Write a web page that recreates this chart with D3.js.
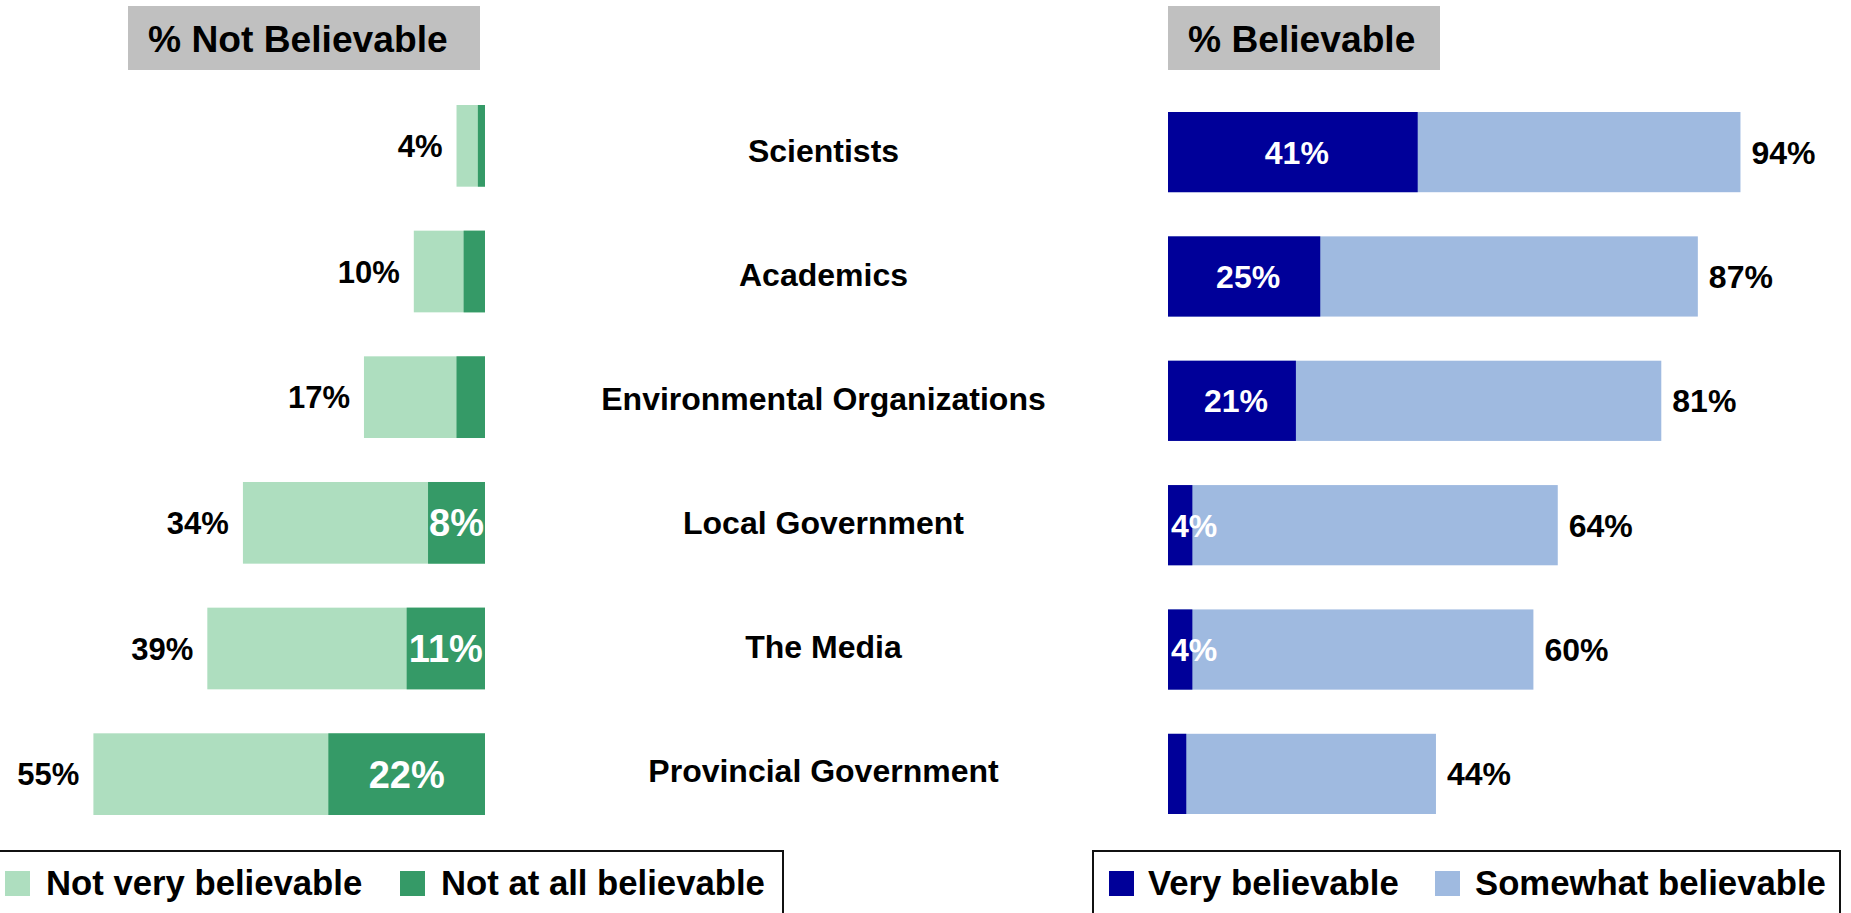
<!DOCTYPE html>
<html>
<head>
<meta charset="utf-8">
<script src="https://cdn.jsdelivr.net/npm/d3@7"></script>
<style>
  html, body { margin: 0; padding: 0; background: #fff; }
  svg { display: block; font-family: "Liberation Sans", Arial, Helvetica, sans-serif; font-weight: bold; }
</style>
</head>
<body>
<svg id="chart" width="1851" height="913"></svg>
<script>
// ---- data ----
const categories = ["Scientists", "Academics", "Environmental Organizations", "Local Government", "The Media", "Provincial Government"];
const notVeryBelievable = [3, 7, 13, 26, 28, 33];
const notAtAllBelievable = [1, 3, 4, 8, 11, 22];
const veryBelievable = [41, 25, 21, 4, 4, 3];
const somewhatBelievable = [53, 62, 60, 60, 56, 41];
const panelTitles = ["% Not Believable", "% Believable"];
const legendLeft = ["Not very believable", "Not at all believable"];
const legendRight = ["Very believable", "Somewhat believable"];

const cLightGreen = "#AEDEBF", cDarkGreen = "#359A67", cNavy = "#000099", cLightBlue = "#9FBAE0";

const svg = d3.select("#chart");
const pct = v => v + "%";

// ---- scales ----
const yL = d3.scaleBand().domain(categories).range([105, 815]).paddingInner(0.35);
const yR = d3.scaleBand().domain(categories).range([112, 814]).paddingInner(0.355);
const yLab = d3.scalePoint().domain(categories).range([151, 771]);
const xL = d3.scaleLinear().domain([0, 100]).range([485, 485 - 712]);
const xR = d3.scaleLinear().domain([0, 100]).range([1168, 1168 + 609]);

const rows = categories.map((c, i) => ({
  cat: c,
  nv: notVeryBelievable[i], na: notAtAllBelievable[i],
  tl: notVeryBelievable[i] + notAtAllBelievable[i],
  vb: veryBelievable[i], sb: somewhatBelievable[i],
  tr: veryBelievable[i] + somewhatBelievable[i]
}));

// ---- titles ----
function titleBox(x0, x1, tx, text) {
  svg.append("rect").attr("x", x0).attr("y", 6).attr("width", x1 - x0).attr("height", 64).attr("fill", "#C0C0C0");
  svg.append("text").attr("x", tx).attr("y", 52).attr("font-size", 37.2).attr("fill", "#000").text(text);
}
titleBox(128, 480, 148, panelTitles[0]);
titleBox(1168, 1440, 1188, panelTitles[1]);

// ---- left panel ----
const gL = svg.append("g");
gL.selectAll("rect.nv").data(rows).join("rect")
  .attr("x", d => xL(d.tl)).attr("y", d => yL(d.cat))
  .attr("width", d => xL(0) - xL(d.tl)).attr("height", yL.bandwidth())
  .attr("fill", cLightGreen);
gL.selectAll("rect.na").data(rows).join("rect")
  .attr("x", d => xL(d.na)).attr("y", d => yL(d.cat))
  .attr("width", d => xL(0) - xL(d.na)).attr("height", yL.bandwidth())
  .attr("fill", cDarkGreen);
gL.selectAll("text.tot").data(rows).join("text")
  .attr("x", d => xL(d.tl) - 14).attr("y", d => yL(d.cat) + yL.bandwidth() / 2 + 0.358 * 31)
  .attr("text-anchor", "end").attr("font-size", 31).attr("fill", "#000")
  .text(d => pct(d.tl));
gL.selectAll("text.in").data(rows.filter(d => d.na >= 5)).join("text")
  .attr("x", d => (xL(d.na) + xL(0)) / 2).attr("y", d => yL(d.cat) + yL.bandwidth() / 2 + 0.358 * 38)
  .attr("text-anchor", "middle").attr("font-size", 38).attr("fill", "#fff")
  .text(d => pct(d.na));

// ---- category labels ----
svg.selectAll("text.cat").data(rows).join("text")
  .attr("x", 823.5).attr("y", d => yLab(d.cat) + 0.358 * 32)
  .attr("text-anchor", "middle").attr("font-size", 32).attr("fill", "#000")
  .text(d => d.cat);

// ---- right panel ----
const gR = svg.append("g");
gR.selectAll("rect.sb").data(rows).join("rect")
  .attr("x", xR(0)).attr("y", d => yR(d.cat))
  .attr("width", d => xR(d.tr) - xR(0)).attr("height", yR.bandwidth())
  .attr("fill", cLightBlue);
gR.selectAll("rect.vb").data(rows).join("rect")
  .attr("x", xR(0)).attr("y", d => yR(d.cat))
  .attr("width", d => xR(d.vb) - xR(0)).attr("height", yR.bandwidth())
  .attr("fill", cNavy);
gR.selectAll("text.tot").data(rows).join("text")
  .attr("x", d => xR(d.tr) + 11).attr("y", d => yR(d.cat) + yR.bandwidth() / 2 + 0.358 * 32)
  .attr("text-anchor", "start").attr("font-size", 32).attr("fill", "#000")
  .text(d => pct(d.tr));
gR.selectAll("text.in").data(rows.filter(d => d.vb >= 4)).join("text")
  .attr("x", d => Math.max((xR(0) + xR(d.vb)) / 2 + 4, xR(0) + 26))
  .attr("y", d => yR(d.cat) + yR.bandwidth() / 2 + 0.358 * 32)
  .attr("text-anchor", "middle").attr("font-size", 32).attr("fill", "#fff")
  .text(d => pct(d.vb));

// ---- legends ----
function legend(x0, x1, items, colors, swX, txX) {
  const g = svg.append("g");
  g.append("rect").attr("x", x0).attr("y", 851).attr("width", x1 - x0).attr("height", 80)
    .attr("fill", "none").attr("stroke", "#111").attr("stroke-width", 2);
  items.forEach((t, i) => {
    g.append("rect").attr("x", swX[i]).attr("y", 871).attr("width", 25).attr("height", 25).attr("fill", colors[i]);
    g.append("text").attr("x", txX[i]).attr("y", 895).attr("font-size", 34.7).attr("fill", "#000").text(t);
  });
}
legend(-2, 783, legendLeft, [cLightGreen, cDarkGreen], [5, 400], [46, 441]);
legend(1093, 1840, legendRight, [cNavy, cLightBlue], [1109, 1435], [1148, 1475]);
</script>
</body>
</html>
